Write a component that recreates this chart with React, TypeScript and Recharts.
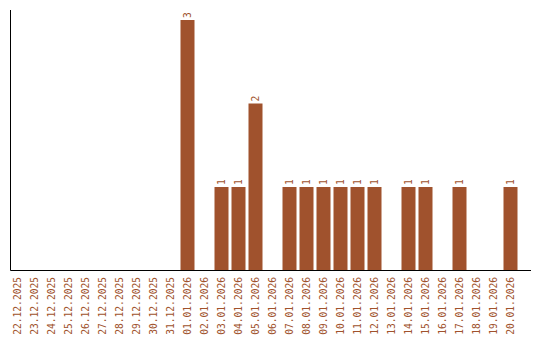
import React from 'react'
import { BarChart, Bar, XAxis, YAxis, LabelList } from 'recharts'

const dates = [
  '22.12.2025', '23.12.2025', '24.12.2025', '25.12.2025', '26.12.2025',
  '27.12.2025', '28.12.2025', '29.12.2025', '30.12.2025', '31.12.2025',
  '01.01.2026', '02.01.2026', '03.01.2026', '04.01.2026', '05.01.2026',
  '06.01.2026', '07.01.2026', '08.01.2026', '09.01.2026', '10.01.2026',
  '11.01.2026', '12.01.2026', '13.01.2026', '14.01.2026', '15.01.2026',
  '16.01.2026', '17.01.2026', '18.01.2026', '19.01.2026', '20.01.2026',
]
const counts = [
  0, 0, 0, 0, 0, 0, 0, 0, 0, 0,
  3, 0, 1, 1, 2, 0, 1, 1, 1, 1,
  1, 1, 0, 1, 1, 0, 1, 0, 0, 1,
]

const data = dates.map((d, i) => ({ date: d, count: counts[i] }))

const BROWN = '#a0522d'
const FONT = '"DejaVu Sans Mono", monospace'

const DateTick = ({ x, payload }: any) => (
  <text
    x={0}
    y={0}
    transform={`translate(${x},269) rotate(-90)`}
    textAnchor="end"
    dominantBaseline="central"
    fill={BROWN}
    fontSize={9.6}
    fontFamily={FONT}
  >
    {payload.value}
  </text>
)

const TopLabel = ({ x, y, width, value }: any) => {
  if (!value) return null
  const cx = x + width / 2
  return (
    <text
      x={0}
      y={0}
      transform={`translate(${cx},${y - 2}) rotate(-90)`}
      textAnchor="start"
      dominantBaseline="central"
      fill={BROWN}
      fontSize={9.6}
      fontFamily={FONT}
    >
      {value}
    </text>
  )
}

export default function App() {
  return (
    <BarChart
      width={532}
      height={332}
      data={data}
      margin={{ top: 2, right: 9, bottom: 0, left: 1.5 }}
      barCategoryGap={3}
    >
      <XAxis
        dataKey="date"
        interval={0}
        height={69.5}
        tickLine={false}
        stroke="#000"
        axisLine={{ stroke: '#000', strokeWidth: 1 }}
        tick={<DateTick />}
        padding={{ left: -2, right: 12.5 }}
      />
      <YAxis
        width={1}
        domain={[0, 3.12]}
        tick={false}
        tickLine={false}
        stroke="#000"
        axisLine={{ stroke: '#000', strokeWidth: 1 }}
      />
      <Bar dataKey="count" fill={BROWN} barSize={14} isAnimationActive={false}>
        <LabelList dataKey="count" content={<TopLabel />} />
      </Bar>
    </BarChart>
  )
}
